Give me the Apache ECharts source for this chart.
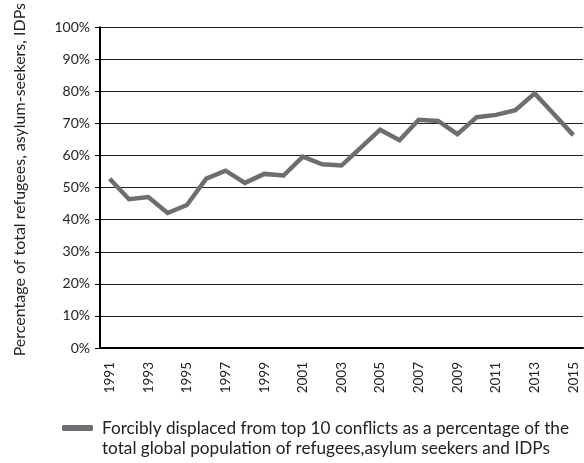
<!DOCTYPE html>
<html><head><meta charset="utf-8">
<script src="https://cdn.jsdelivr.net/npm/echarts@6/dist/echarts.min.js"></script>
<style>html,body{margin:0;padding:0;background:#fff}#c{width:584px;height:463px}</style>
</head><body><div id="c"></div>
<script>
const years = ['1991','1992','1993','1994','1995','1996','1997','1998','1999','2000','2001','2002','2003','2004','2005','2006','2007','2008','2009','2010','2011','2012','2013','2014','2015'];
const share = [52.8,46.4,47.1,42.1,44.6,52.8,55.3,51.5,54.3,53.8,59.7,57.3,56.9,62.5,68.1,64.8,71.2,70.8,66.7,72.0,72.7,74.2,79.4,72.9,66.4];
const seriesName = 'Forcibly displaced from top 10 conflicts as a percentage of the\ntotal global population of refugees,asylum seekers and IDPs';
const yTitle = 'Percentage of total refugees, asylum-seekers, IDPs';
const font = 'Lato, "Open Sans", sans-serif';
const chart = echarts.init(document.getElementById('c'));
chart.setOption({
  animation: false,
  grid: {left: 100, right: 1, top: 22, bottom: 115},
  legend: {
    left: 57, top: 393,
    icon: 'roundRect', itemWidth: 31, itemHeight: 6,
    formatter: function (n) { return ' \n' + n; },
    textStyle: {fontFamily: font, fontSize: 17.2, color: '#222', lineHeight: 20, padding: [0, 0, 0, 4]},
    data: [seriesName]
  },
  xAxis: {
    type: 'category', data: years, boundaryGap: true,
    axisLine: {lineStyle: {color: '#000', width: 2}},
    axisTick: {interval: 0, length: 4, lineStyle: {color: '#000', width: 1}},
    axisLabel: {interval: 1, rotate: 90, margin: 14, fontFamily: '"Liberation Sans Narrow", ' + font, fontSize: 13.5, color: '#222'}
  },
  yAxis: {
    type: 'value', min: 0, max: 100, interval: 10,
    name: yTitle, nameLocation: 'middle', nameGap: 72,
    nameTextStyle: {fontFamily: font, fontSize: 16, color: '#222', padding: [0, 0, 0, 16]},
    axisLine: {show: true, lineStyle: {color: '#000', width: 2}},
    axisTick: {show: true, length: 5, lineStyle: {color: '#000'}},
    splitLine: {lineStyle: {color: '#222', width: 1}},
    axisLabel: {formatter: '{value}%', margin: 10, fontFamily: font, fontSize: 14, color: '#222'}
  },
  series: [{
    name: seriesName, type: 'line', data: share, symbol: 'none',
    lineStyle: {color: '#6d6e71', width: 4.5, join: 'miter'},
    itemStyle: {color: '#6d6e71'}
  }]
});
</script></body></html>
